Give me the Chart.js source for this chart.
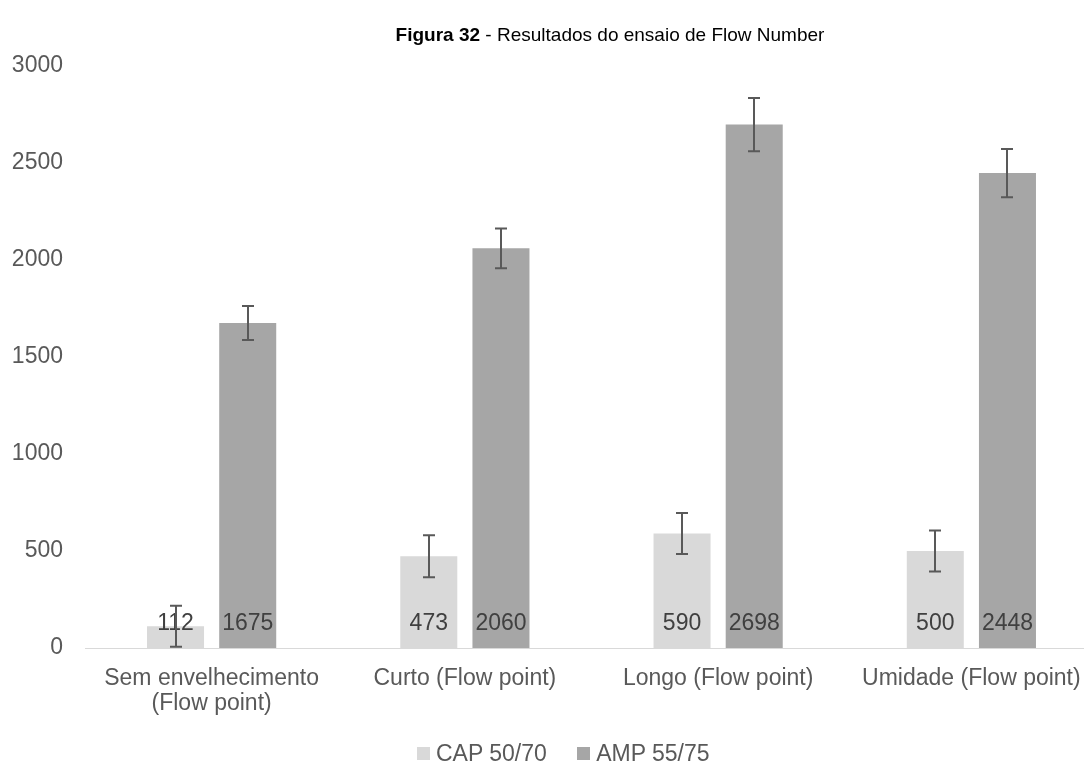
<!DOCTYPE html>
<html lang="pt-BR">
<head>
<meta charset="utf-8">
<script src="https://cdn.jsdelivr.net/npm/chart.js@4.4.0/dist/chart.umd.min.js"></script>
<style>
  body { margin: 0; width: 1084px; height: 764px; overflow: hidden; background: #fff; font-family: 'Liberation Sans', Arial, sans-serif; }
  #wrap { position: relative; width: 1100px; height: 764px; }
  #titulo { position: absolute; top: 24px; left: 610px; transform: translateX(-50%); white-space: nowrap; font-size: 19px; line-height: 22px; color: #000; }
  #legenda { position: absolute; top: 740px; left: 417px; white-space: nowrap; font-size: 23px; line-height: 26px; color: #595959; }
  #legenda span.box { display: inline-block; width: 13px; height: 13px; margin-right: 6px; vertical-align: 1px; }
  #legenda span.item { margin-right: 24px; }
</style>
</head>
<body>
<div id="wrap">
  <canvas id="grafico" width="1100" height="764"></canvas>
  <div id="titulo"><b>Figura 32</b> - Resultados do ensaio de Flow Number</div>
  <div id="legenda">
    <span class="item"><span class="box" style="background:#d9d9d9"></span>CAP 50/70</span>
    <span class="item"><span class="box" style="background:#a6a6a6"></span>AMP 55/75</span>
  </div>
</div>
<script>
// categorias e valores
const categories = [
  ['Sem envelhecimento', '(Flow point)'],
  'Curto (Flow point)',
  'Longo (Flow point)',
  'Umidade (Flow point)',
];
const seriesNames = ['CAP 50/70', 'AMP 55/75'];
const capValues = [112, 473, 590, 500];
const ampValues = [1675, 2060, 2698, 2448];
// barras de erro (+/-) estimadas
const capErrors = [106, 108, 106, 106];
const ampErrors = [88, 103, 137, 124];
const yTicks = [0, 500, 1000, 1500, 2000, 2500, 3000];

const errorsByDataset = [capErrors, ampErrors];
const fontFamily = '"Liberation Sans", Arial, sans-serif';

// rótulos de dados na base das barras
const dataLabelsPlugin = {
  id: 'dataLabels',
  afterDatasetsDraw(chart) {
    const { ctx } = chart;
    const base = chart.scales.y.getPixelForValue(0);
    ctx.save();
    ctx.font = '23px ' + fontFamily;
    ctx.fillStyle = '#404040';
    ctx.textAlign = 'center';
    ctx.textBaseline = 'middle';
    chart.data.datasets.forEach((ds, i) => {
      chart.getDatasetMeta(i).data.forEach((bar, j) => {
        ctx.fillText(String(ds.data[j]), bar.x, base - 24);
      });
    });
    ctx.restore();
  },
};

// barras de erro desenhadas por cima dos rótulos
const errorBarsPlugin = {
  id: 'errorBars',
  afterDraw(chart) {
    const { ctx } = chart;
    const y = chart.scales.y;
    ctx.save();
    ctx.strokeStyle = '#595959';
    ctx.lineWidth = 2;
    chart.data.datasets.forEach((ds, i) => {
      chart.getDatasetMeta(i).data.forEach((bar, j) => {
        const err = errorsByDataset[i][j];
        const top = y.getPixelForValue(ds.data[j] + err);
        const bottom = y.getPixelForValue(ds.data[j] - err);
        const x = Math.round(bar.x);
        ctx.beginPath();
        ctx.moveTo(x, top);
        ctx.lineTo(x, bottom);
        ctx.moveTo(x - 6, top);
        ctx.lineTo(x + 6, top);
        ctx.moveTo(x - 6, bottom);
        ctx.lineTo(x + 6, bottom);
        ctx.stroke();
      });
    });
    ctx.restore();
  },
};

const canvas = document.getElementById('grafico');

new Chart(canvas, {
  type: 'bar',
  data: {
    labels: categories,
    datasets: [
      {
        label: seriesNames[0],
        data: capValues,
        backgroundColor: '#d9d9d9',
        categoryPercentage: 0.57,
        barPercentage: 0.79,
      },
      {
        label: seriesNames[1],
        data: ampValues,
        backgroundColor: '#a6a6a6',
        categoryPercentage: 0.57,
        barPercentage: 0.79,
      },
    ],
  },
  options: {
    responsive: false,
    animation: false,
    layout: { padding: { top: 66, right: 2, left: 0, bottom: 0 } },
    plugins: {
      legend: { display: false },
      tooltip: { enabled: false },
    },
    scales: {
      x: {
        grid: { display: false },
        border: { color: '#d9d9d9', width: 1 },
        ticks: {
          color: '#595959',
          font: { family: fontFamily, size: 23, lineHeight: 1.1 },
          padding: 10,
          maxRotation: 0,
          autoSkip: false,
        },
        afterFit(scale) { scale.height = 116; },
      },
      y: {
        min: 0,
        max: 3000,
        grid: { display: false },
        border: { display: false },
        afterBuildTicks(scale) { scale.ticks = yTicks.map((v) => ({ value: v })); },
        ticks: {
          color: '#595959',
          font: { family: fontFamily, size: 23 },
          padding: 14,
          // sem separador de milhar
          callback: (value) => String(value),
        },
        afterFit(scale) { scale.width = 85; },
      },
    },
  },
  plugins: [dataLabelsPlugin, errorBarsPlugin],
});
</script>
</body>
</html>
